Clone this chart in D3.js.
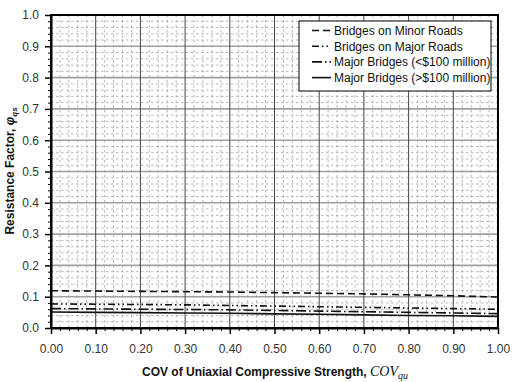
<!DOCTYPE html>
<html><head><meta charset="utf-8">
<script src="https://cdn.jsdelivr.net/npm/d3@7"></script>
<style>body{margin:0;background:#fff}svg{display:block}text{font-family:"Liberation Sans",Arial,sans-serif}</style>
</head><body><svg id="c" width="514" height="382"></svg>
<script>
const covValues = [0.0,0.1,0.2,0.3,0.4,0.5,0.6,0.7,0.8,0.9,1.0];
const minorRoads = [0.119,0.118,0.117,0.116,0.115,0.113,0.111,0.109,0.106,0.103,0.099];
const majorRoads = [0.077,0.076,0.075,0.074,0.072,0.070,0.068,0.066,0.064,0.062,0.060];
const majorBridgesLow = [0.062,0.061,0.060,0.059,0.058,0.056,0.054,0.052,0.050,0.048,0.046];
const majorBridgesHigh = [0.051,0.050,0.049,0.048,0.047,0.045,0.044,0.042,0.040,0.039,0.037];
const seriesNames = ["Bridges on Minor Roads","Bridges on Major Roads","Major Bridges (<$100 million)","Major Bridges (>$100 million)"];
const xTickLabels = ["0.00","0.10","0.20","0.30","0.40","0.50","0.60","0.70","0.80","0.90","1.00"];
const yTickLabels = ["0.0","0.1","0.2","0.3","0.4","0.5","0.6","0.7","0.8","0.9","1.0"];

const svg = d3.select("#c");
const L=51,R=498,T=15,B=328;
const x = d3.scaleLinear().domain([0,1]).range([L,R]);
const y = d3.scaleLinear().domain([0,1]).range([B,T]);
const g = svg.append("g");
const minorT = d3.range(0,1.0001,0.02).filter(v=>Math.abs(v*10-Math.round(v*10))>1e-6);
const majorT = d3.range(0,1.0001,0.1);
// minor grid
g.selectAll(".mgx").data(minorT).join("line").attr("x1",d=>x(d)).attr("x2",d=>x(d)).attr("y1",T).attr("y2",B)
 .attr("stroke","#999").attr("stroke-width",0.7).attr("stroke-dasharray","2.5,2.5");
g.selectAll(".mgy").data(minorT).join("line").attr("y1",d=>y(d)).attr("y2",d=>y(d)).attr("x1",L).attr("x2",R)
 .attr("stroke","#999").attr("stroke-width",0.7).attr("stroke-dasharray","2.5,2.5");
// major grid
g.selectAll(".Mgy").data(majorT.slice(1,10)).join("line").attr("y1",d=>y(d)).attr("y2",d=>y(d)).attr("x1",L).attr("x2",R)
 .attr("stroke","#a0a0a0").attr("stroke-width",1.6);
g.selectAll(".Mgx").data(majorT.slice(1,10)).join("line").attr("x1",d=>x(d)).attr("x2",d=>x(d)).attr("y1",T).attr("y2",B)
 .attr("stroke","#444").attr("stroke-width",1);

// series
const dashes = ["7,4","7,3,1.5,3,1.5,3","10,3,1.5,3",null];
const allData = [minorRoads,majorRoads,majorBridgesLow,majorBridgesHigh];
const line = d3.line().x((d,i)=>x(covValues[i])).y(d=>y(d));
allData.forEach((s,k)=>{
  g.append("path").datum(s).attr("d",line).attr("fill","none").attr("stroke","#111")
   .attr("stroke-width",1.6).attr("stroke-dasharray",dashes[k]);
});

// border
g.append("rect").attr("x",L).attr("y",T).attr("width",R-L).attr("height",B-T).attr("fill","none").attr("stroke","#000").attr("stroke-width",2);

// axes
const xAxis = d3.axisBottom(x).tickValues(majorT).tickFormat((d,i)=>xTickLabels[i]).tickSizeInner(6).tickSizeOuter(0).tickPadding(10);
const xa = svg.append("g").attr("transform",`translate(0,${B})`).call(xAxis);
xa.select(".domain").attr("stroke","#000").attr("stroke-width",2);
xa.selectAll(".tick line").attr("stroke","#000").attr("stroke-width",1.5);
xa.selectAll("text").attr("font-size",12).attr("fill","#333");
svg.append("g").attr("transform",`translate(0,${B})`).call(d3.axisBottom(x).tickValues(minorT).tickFormat("").tickSizeInner(3).tickSizeOuter(0))
 .call(a=>a.select(".domain").remove()).selectAll("line").attr("stroke","#000");
const yAxis = d3.axisLeft(y).tickValues(majorT).tickFormat((d,i)=>yTickLabels[i]).tickSizeInner(6).tickSizeOuter(0).tickPadding(6);
const ya = svg.append("g").attr("transform",`translate(${L},0)`).call(yAxis);
ya.select(".domain").attr("stroke","#000").attr("stroke-width",2);
ya.selectAll(".tick line").attr("stroke","#000").attr("stroke-width",1.5);
ya.selectAll("text").attr("font-size",12).attr("fill","#333");
svg.append("g").attr("transform",`translate(${L},0)`).call(d3.axisLeft(y).tickValues(minorT).tickFormat("").tickSizeInner(3).tickSizeOuter(0))
 .call(a=>a.select(".domain").remove()).selectAll("line").attr("stroke","#000");

// axis titles
const xt = svg.append("text").attr("x",275).attr("y",376).attr("text-anchor","middle").attr("font-size",12).attr("font-weight","bold").attr("fill","#111");
xt.append("tspan").text("COV of Uniaxial Compressive Strength, ");
xt.append("tspan").attr("font-family","Liberation Serif,serif").attr("font-style","italic").attr("font-weight","normal").attr("font-size",14).text("COV");
xt.append("tspan").attr("font-family","Liberation Serif,serif").attr("font-style","italic").attr("font-weight","normal").attr("font-size",10).attr("dy",3).text("qu");
const yt = svg.append("text").attr("transform","translate(14,171) rotate(-90)").attr("text-anchor","middle").attr("font-size",12).attr("font-weight","bold").attr("fill","#111");
yt.append("tspan").text("Resistance Factor, ");
yt.append("tspan").attr("font-style","italic").text("φ");
yt.append("tspan").attr("font-style","italic").attr("font-size",8).attr("dy",3).text("qs");

// legend
const lg = svg.append("g");
lg.append("rect").attr("x",299).attr("y",21).attr("width",192).attr("height",70).attr("fill","#fff").attr("stroke","#000").attr("stroke-width",1);
seriesNames.forEach((n,k)=>{
  const yy = 30.5 + k*15.7;
  lg.append("line").attr("x1",312).attr("x2",331).attr("y1",yy).attr("y2",yy).attr("stroke","#111").attr("stroke-width",1.6).attr("stroke-dasharray",dashes[k]);
  lg.append("text").attr("x",334).attr("y",yy+4.5).attr("font-size",12).attr("fill","#111").text(n);
});
</script></body></html>
